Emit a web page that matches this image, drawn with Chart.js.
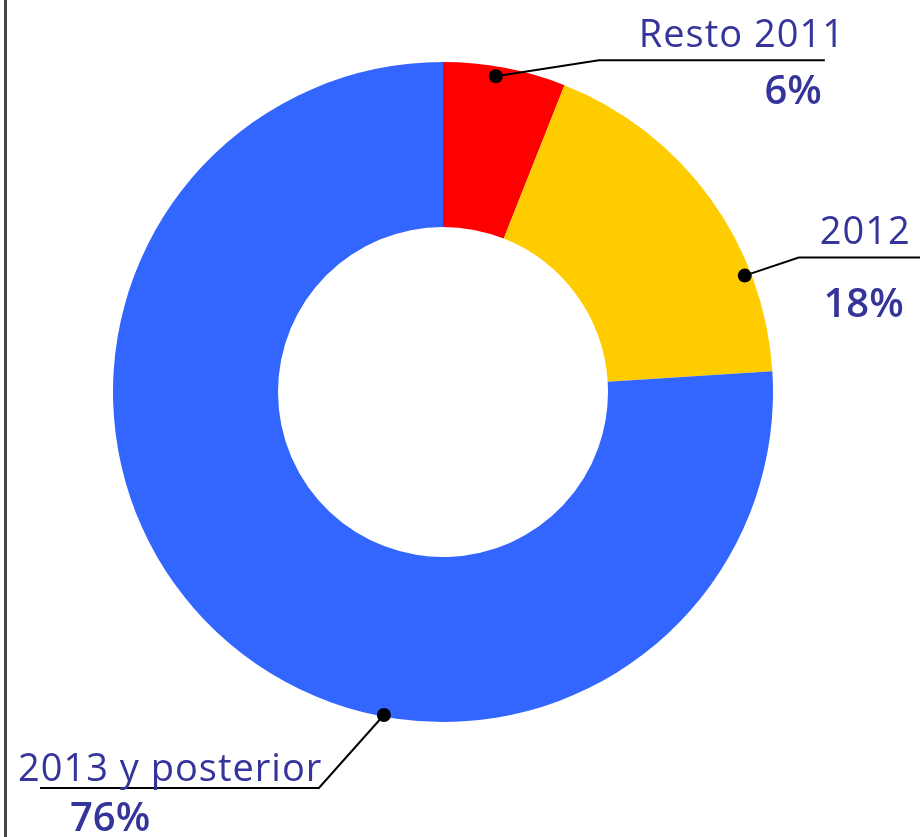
<!DOCTYPE html>
<html lang="es">
<head>
    <meta charset="UTF-8">
    <title>Distribución por año</title>
    <script src="https://cdn.jsdelivr.net/npm/chart.js"></script>
    <style>
        body { margin: 0; background: #fff; }
        #wrap { width: 920px; height: 837px; position: relative; }
    </style>
</head>
<body>

<div id="wrap">
    <canvas id="chart" width="920" height="837"></canvas>
</div>

<script>
    // datos
    const categorias = ['Resto 2011', '2012', '2013 y posterior'];
    const porcentajes = [6, 18, 76];
    const etiquetasPct = ['6%', '18%', '76%'];
    const colores = ['#FF0000', '#FFCC00', '#3366FF'];

    // donde cae el punto de cada etiqueta dentro de su porcion (fraccion del arco)
    const anclaFrac = [0.44, 0.73, 0.38];
    const anclaRadio = [0.97, 0.98, 0.995];

    const textColor = '#34349A';

    // lineas guia + textos
    const leaderPlugin = {
        id: 'leaders',
        beforeDraw(chart) {
            const ctx = chart.ctx;
            ctx.save();
            ctx.fillStyle = '#444';
            ctx.fillRect(4, 0, 3, chart.height);
            ctx.restore();
        },
        afterDraw(chart) {
            const ctx = chart.ctx;
            const arcs = chart.getDatasetMeta(0).data;
            ctx.save();
            arcs.forEach((arc, i) => {
                const p = arc.getProps(['x', 'y', 'startAngle', 'endAngle', 'outerRadius'], true);
                const a = p.startAngle + (p.endAngle - p.startAngle) * anclaFrac[i];
                const r = p.outerRadius * anclaRadio[i];
                const dx = p.x + Math.cos(a) * r;
                const dy = p.y + Math.sin(a) * r;

                let elbow, end, txt, pct, align;
                if (i === 0) {
                    elbow = [dx + 103, dy - 16];
                    end = [dx + 329, dy - 16];
                    txt = [dx + 348, dy - 29];
                    pct = [dx + 326, dy + 28];
                    align = 'right';
                } else if (i === 1) {
                    elbow = [dx + 54, dy - 18];
                    end = [920, dy - 18];
                    txt = [dx + 165, dy - 32];
                    pct = [dx + 159, dy + 41];
                    align = 'right';
                } else {
                    elbow = [dx - 65, dy + 73];
                    end = [40, dy + 73];
                    txt = [18, dy + 66];
                    pct = [70, dy + 116];
                    align = 'left';
                }

                ctx.strokeStyle = '#000';
                ctx.lineWidth = 2;
                ctx.beginPath();
                ctx.moveTo(dx, dy);
                ctx.lineTo(elbow[0], elbow[1]);
                ctx.lineTo(end[0], end[1]);
                ctx.stroke();

                ctx.fillStyle = '#000';
                ctx.beginPath();
                ctx.arc(dx, dy, 7, 0, Math.PI * 2);
                ctx.fill();

                ctx.fillStyle = textColor;
                ctx.textAlign = align;
                ctx.textBaseline = 'alphabetic';
                ctx.font = '38px "Open Sans"';
                ctx.letterSpacing = '1px';
                // con letterSpacing el texto alineado a la derecha queda corrido
                const extra = align === 'right' ? 1 : 0;
                ctx.fillText(categorias[i], txt[0] + extra, txt[1]);
                ctx.font = '600 40px "Open Sans"';
                ctx.letterSpacing = '0px';
                ctx.fillText(etiquetasPct[i], pct[0], pct[1]);
            });
            ctx.restore();
        }
    };

    const ctx = document.getElementById('chart').getContext('2d');
    new Chart(ctx, {
        type: 'doughnut',
        data: {
            labels: categorias,
            datasets: [{
                data: porcentajes,
                backgroundColor: colores,
                borderWidth: 0,
                hoverOffset: 0
            }]
        },
        options: {
            responsive: false,
            animation: false,
            cutout: '50%',
            layout: {
                padding: { left: 113, right: 147, top: 62, bottom: 115 }
            },
            plugins: {
                legend: { display: false },
                tooltip: { enabled: false },
                title: { display: false }
            }
        },
        plugins: [leaderPlugin]
    });
</script>
</body>
</html>
